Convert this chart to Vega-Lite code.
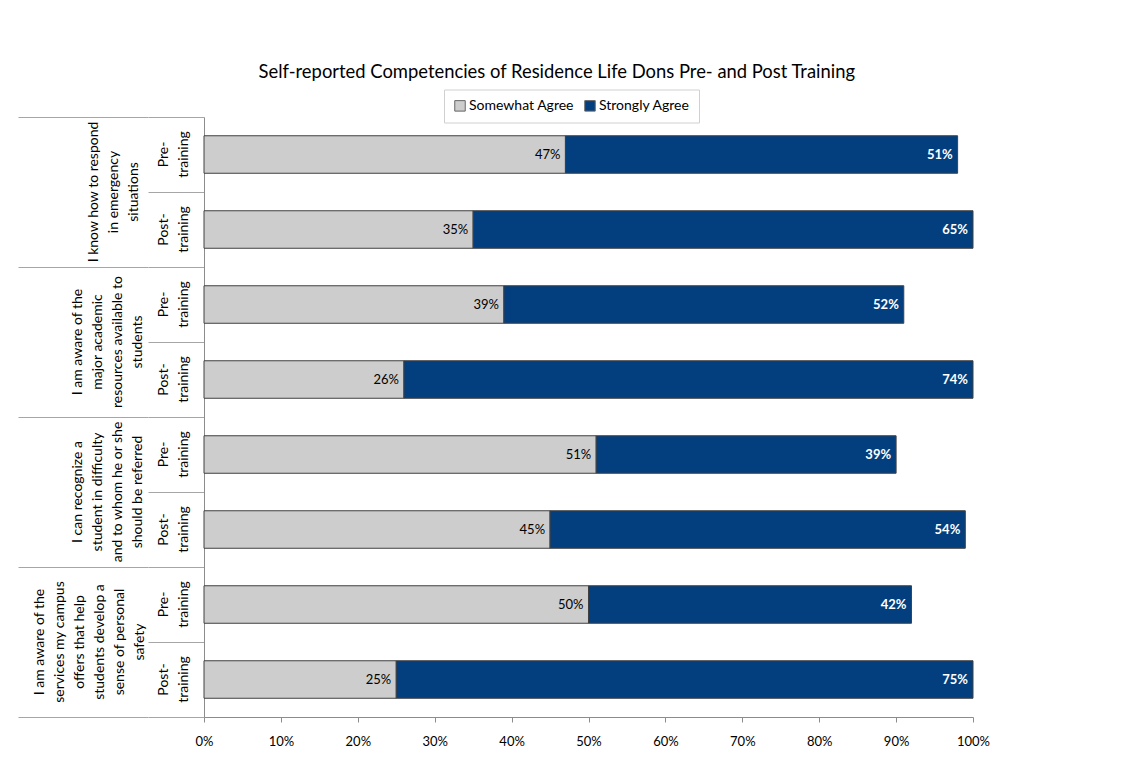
{
  "$schema": "https://vega.github.io/schema/vega-lite/v6.json",
  "padding": {"left": 18, "top": 63, "right": 5, "bottom": 5},
  "autosize": {"type": "pad"},
  "background": "white",
  "title": {"text": "Self-reported Competencies of Residence Life Dons Pre- and Post Training", "fontSize": 18.4, "font": "Lato", "fontWeight": "normal", "color": "#000000", "anchor": "middle", "offset": 7.5, "dx": 53},
  "config": {"font": "Lato", "view": {"stroke": null}},
  "bounds": "flush",
  "spacing": 0,
  "resolve": {"scale": {"y": "independent"}},
  "data": {"values": [
    {"q": "Q1", "question": "I know how to respond\nin emergency\nsituations", "phase": "Pre", "phaseLabel": "Pre-\ntraining", "row": "Q1 Pre", "series": "Somewhat Agree", "value": 0.47},
    {"q": "Q1", "question": "I know how to respond\nin emergency\nsituations", "phase": "Pre", "phaseLabel": "Pre-\ntraining", "row": "Q1 Pre", "series": "Strongly Agree", "value": 0.51},
    {"q": "Q1", "question": "I know how to respond\nin emergency\nsituations", "phase": "Post", "phaseLabel": "Post-\ntraining", "row": "Q1 Post", "series": "Somewhat Agree", "value": 0.35},
    {"q": "Q1", "question": "I know how to respond\nin emergency\nsituations", "phase": "Post", "phaseLabel": "Post-\ntraining", "row": "Q1 Post", "series": "Strongly Agree", "value": 0.65},
    {"q": "Q2", "question": "I am aware of the\nmajor academic\nresources available to\nstudents", "phase": "Pre", "phaseLabel": "Pre-\ntraining", "row": "Q2 Pre", "series": "Somewhat Agree", "value": 0.39},
    {"q": "Q2", "question": "I am aware of the\nmajor academic\nresources available to\nstudents", "phase": "Pre", "phaseLabel": "Pre-\ntraining", "row": "Q2 Pre", "series": "Strongly Agree", "value": 0.52},
    {"q": "Q2", "question": "I am aware of the\nmajor academic\nresources available to\nstudents", "phase": "Post", "phaseLabel": "Post-\ntraining", "row": "Q2 Post", "series": "Somewhat Agree", "value": 0.26},
    {"q": "Q2", "question": "I am aware of the\nmajor academic\nresources available to\nstudents", "phase": "Post", "phaseLabel": "Post-\ntraining", "row": "Q2 Post", "series": "Strongly Agree", "value": 0.74},
    {"q": "Q3", "question": "I can recognize a\nstudent in difficulty\nand to whom he or she\nshould be referred", "phase": "Pre", "phaseLabel": "Pre-\ntraining", "row": "Q3 Pre", "series": "Somewhat Agree", "value": 0.51},
    {"q": "Q3", "question": "I can recognize a\nstudent in difficulty\nand to whom he or she\nshould be referred", "phase": "Pre", "phaseLabel": "Pre-\ntraining", "row": "Q3 Pre", "series": "Strongly Agree", "value": 0.39},
    {"q": "Q3", "question": "I can recognize a\nstudent in difficulty\nand to whom he or she\nshould be referred", "phase": "Post", "phaseLabel": "Post-\ntraining", "row": "Q3 Post", "series": "Somewhat Agree", "value": 0.45},
    {"q": "Q3", "question": "I can recognize a\nstudent in difficulty\nand to whom he or she\nshould be referred", "phase": "Post", "phaseLabel": "Post-\ntraining", "row": "Q3 Post", "series": "Strongly Agree", "value": 0.54},
    {"q": "Q4", "question": "I am aware of the\nservices my campus\noffers that help\nstudents develop a\nsense of personal\nsafety", "phase": "Pre", "phaseLabel": "Pre-\ntraining", "row": "Q4 Pre", "series": "Somewhat Agree", "value": 0.50},
    {"q": "Q4", "question": "I am aware of the\nservices my campus\noffers that help\nstudents develop a\nsense of personal\nsafety", "phase": "Pre", "phaseLabel": "Pre-\ntraining", "row": "Q4 Pre", "series": "Strongly Agree", "value": 0.42},
    {"q": "Q4", "question": "I am aware of the\nservices my campus\noffers that help\nstudents develop a\nsense of personal\nsafety", "phase": "Post", "phaseLabel": "Post-\ntraining", "row": "Q4 Post", "series": "Somewhat Agree", "value": 0.25},
    {"q": "Q4", "question": "I am aware of the\nservices my campus\noffers that help\nstudents develop a\nsense of personal\nsafety", "phase": "Post", "phaseLabel": "Post-\ntraining", "row": "Q4 Post", "series": "Strongly Agree", "value": 0.75}
  ]},
  "hconcat": [
    {
      "width": 130,
      "height": 600,
      "transform": [{"filter": "datum.series === 'Somewhat Agree' && datum.phase === 'Pre'"}],
      "encoding": {
        "y": {"field": "q", "type": "nominal", "sort": ["Q1", "Q2", "Q3", "Q4"], "scale": {"paddingInner": 0, "paddingOuter": 0},
              "axis": {"labels": false, "ticks": false, "domain": false, "grid": true, "tickBand": "extent", "gridColor": "#a6a6a6", "gridOpacity": 1, "title": null}},
        "text": {"field": "question"}
      },
      "layer": [
        {
          "transform": [{"filter": "datum.q === 'Q1'"}],
          "mark": {"type": "text", "angle": 270, "align": "center", "baseline": "middle", "lineBreak": "\n", "fontSize": 14, "lineHeight": 20, "dy": 11, "color": "#000000"}
        },
        {
          "transform": [{"filter": "datum.q === 'Q2' || datum.q === 'Q3'"}],
          "mark": {"type": "text", "angle": 270, "align": "center", "baseline": "middle", "lineBreak": "\n", "fontSize": 14, "lineHeight": 20, "dy": -5, "color": "#000000"}
        },
        {
          "transform": [{"filter": "datum.q === 'Q4'"}],
          "mark": {"type": "text", "angle": 270, "align": "center", "baseline": "middle", "lineBreak": "\n", "fontSize": 14, "lineHeight": 20, "dy": -43, "color": "#000000"}
        }
      ]
    },
    {
      "width": 56,
      "height": 600,
      "transform": [{"filter": "datum.series === 'Somewhat Agree'"}],
      "mark": {"type": "text", "angle": 270, "align": "center", "baseline": "middle", "lineBreak": "\n", "fontSize": 14, "lineHeight": 20, "dy": -12, "color": "#000000"},
      "encoding": {
        "y": {"field": "row", "type": "nominal", "sort": ["Q1 Pre", "Q1 Post", "Q2 Pre", "Q2 Post", "Q3 Pre", "Q3 Post", "Q4 Pre", "Q4 Post"], "scale": {"paddingInner": 0, "paddingOuter": 0},
              "axis": {"labels": false, "ticks": false, "domain": false, "grid": true, "tickBand": "extent", "gridColor": "#a6a6a6", "gridOpacity": 1, "title": null}},
        "text": {"field": "phaseLabel"}
      }
    },
    {
      "width": 769,
      "height": 600,
      "transform": [{"stack": "value", "groupby": ["row"], "sort": [{"field": "series"}], "as": ["v0", "v1"]}],
      "encoding": {
        "y": {"field": "row", "type": "nominal", "sort": ["Q1 Pre", "Q1 Post", "Q2 Pre", "Q2 Post", "Q3 Pre", "Q3 Post", "Q4 Pre", "Q4 Post"], "scale": {"paddingInner": 0.5, "paddingOuter": 0.25},
              "axis": {"labels": false, "ticks": false, "domain": true, "domainColor": "#8c8c8c", "grid": false, "title": null}}
      },
      "layer": [
        {
          "mark": {"type": "bar", "stroke": "#404040", "strokeWidth": 1},
          "encoding": {
            "x": {"field": "v0", "type": "quantitative", "scale": {"domain": [0, 1]},
                  "axis": {"format": ".0%", "values": [0, 0.1, 0.2, 0.3, 0.4, 0.5, 0.6, 0.7, 0.8, 0.9, 1], "grid": false, "domainColor": "#8c8c8c", "tickColor": "#8c8c8c", "tickSize": 5, "labelFontSize": 13, "labelColor": "#000000", "labelPadding": 13, "labelFlush": false, "title": null}},
            "x2": {"field": "v1"},
            "color": {"field": "series", "type": "nominal", "scale": {"domain": ["Somewhat Agree", "Strongly Agree"], "range": ["#cdcdcd", "#033f7e"]},
                      "legend": {"orient": "none", "legendX": 426, "legendY": -27.5, "direction": "horizontal", "title": null, "symbolType": "square", "symbolSize": 110, "symbolStrokeColor": "#666666", "symbolStrokeWidth": 1, "labelFontSize": 14, "labelColor": "#000000", "strokeColor": "#d0d0d0", "fillColor": "white", "padding": 9, "columnPadding": 8, "labelOffset": 2}}
          }
        },
        {
          "transform": [{"filter": "datum.series === 'Somewhat Agree'"}],
          "mark": {"type": "text", "align": "right", "baseline": "middle", "dx": -5, "fontSize": 13, "color": "#000000"},
          "encoding": {"x": {"field": "v1", "type": "quantitative"}, "text": {"field": "value", "format": ".0%"}}
        },
        {
          "transform": [{"filter": "datum.series === 'Strongly Agree'"}],
          "mark": {"type": "text", "align": "right", "baseline": "middle", "dx": -5, "fontSize": 13, "fontWeight": "bold", "color": "#ffffff"},
          "encoding": {"x": {"field": "v1", "type": "quantitative"}, "text": {"field": "value", "format": ".0%"}}
        }
      ]
    }
  ]
}
